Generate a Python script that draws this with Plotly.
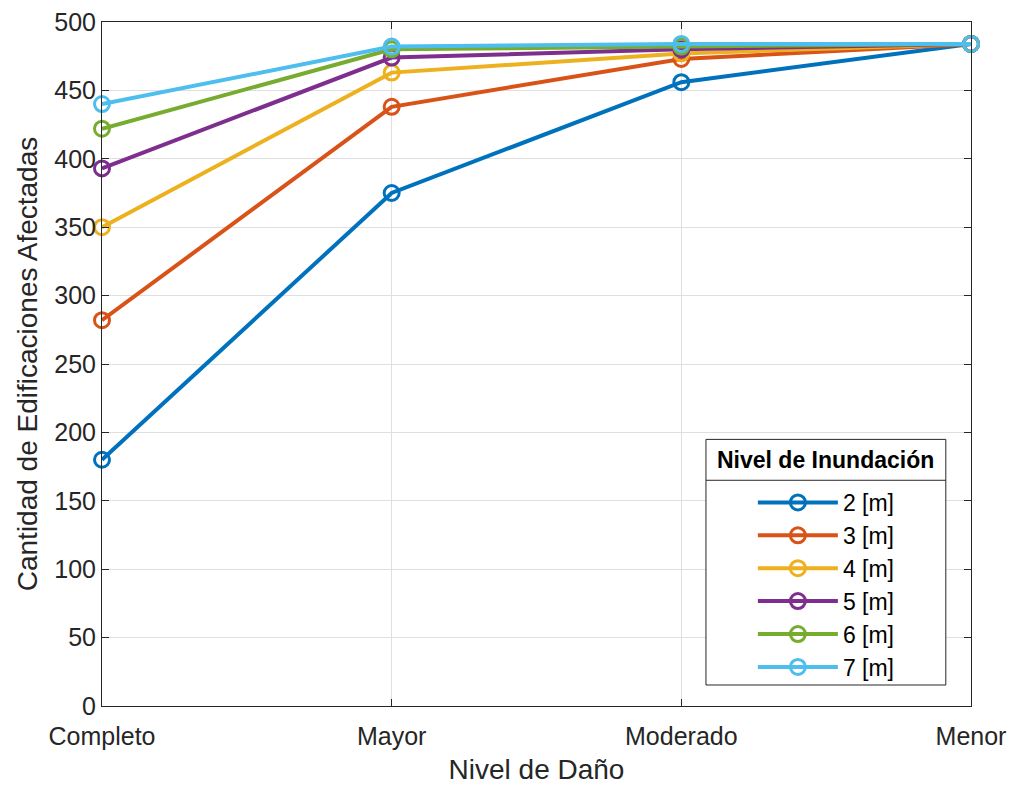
import plotly.graph_objects as go

categories = ["Completo", "Mayor", "Moderado", "Menor"]
series_names = ["2 [m]", "3 [m]", "4 [m]", "5 [m]", "6 [m]", "7 [m]"]
v2 = [180, 375, 456, 484]
v3 = [282, 438, 473, 484]
v4 = [350, 463, 477, 484]
v5 = [393, 474, 480, 484]
v6 = [422, 480, 482, 484]
v7 = [440, 482, 484, 484]
series_values = [v2, v3, v4, v5, v6, v7]
colors = ["#0072BD", "#D95319", "#EDB120", "#7E2F8E", "#77AC30", "#4DBEEE"]
y_ticks = list(range(0, 501, 50))
legend_title = "Nivel de Inundación"

x_pos = list(range(len(categories)))

fig = go.Figure()
for name, vals, c in zip(series_names, series_values, colors):
    fig.add_trace(go.Scatter(
        x=x_pos, y=vals, name=name, mode="lines+markers",
        line=dict(color=c, width=4),
        marker=dict(symbol="circle-open", size=15, color=c, line=dict(width=3, color=c)),
        cliponaxis=False,
    ))

font_family = "Liberation Sans, Arial, sans-serif"
fig.update_layout(
    width=1014, height=786,
    margin=dict(l=102, r=43, t=22, b=80),
    paper_bgcolor="white", plot_bgcolor="white",
    font=dict(family=font_family, size=25, color="#262626"),
    showlegend=True,
    legend=dict(
        x=0.749, xanchor="left", y=0.329, yanchor="top",
        borderwidth=0, bgcolor="rgba(0,0,0,0)",
        font=dict(size=23, color="black"),
        itemwidth=80, tracegroupgap=0,
    ),
    xaxis=dict(
        range=[0, 3], tickvals=x_pos, ticktext=categories,
        showgrid=True, gridcolor="#DFDFDF", gridwidth=1,
        showline=True, linecolor="#262626", linewidth=1, mirror="ticks",
        ticks="inside", ticklen=7, tickcolor="#262626",
        zeroline=False, automargin=False, ticklabelstandoff=8,
        title=dict(text="Nivel de Daño", font=dict(size=28), standoff=10),
        tickfont=dict(size=25),
    ),
    yaxis=dict(
        range=[0, 500], tickvals=y_ticks,
        showgrid=True, gridcolor="#DFDFDF", gridwidth=1,
        showline=True, linecolor="#262626", linewidth=1, mirror="ticks",
        ticks="inside", ticklen=7, tickcolor="#262626",
        zeroline=False, automargin=False,
        title=dict(text="Cantidad de Edificaciones Afectadas", font=dict(size=28), standoff=8),
        tickfont=dict(size=25),
    ),
)

# legend box, separator and title
fig.add_shape(type="rect", xref="paper", yref="paper",
              x0=0.695, x1=0.971, y0=0.0307, y1=0.3898,
              line=dict(color="#262626", width=1), fillcolor="white", layer="above")
fig.add_shape(type="line", xref="paper", yref="paper",
              x0=0.695, x1=0.971, y0=0.33, y1=0.33,
              line=dict(color="#262626", width=1), layer="above")
fig.add_annotation(xref="paper", yref="paper", x=0.8331, y=0.359,
                   text="<b>" + legend_title + "</b>", showarrow=False,
                   font=dict(size=23, color="black", family=font_family),
                   xanchor="center", yanchor="middle")

fig.write_html("out.html")
